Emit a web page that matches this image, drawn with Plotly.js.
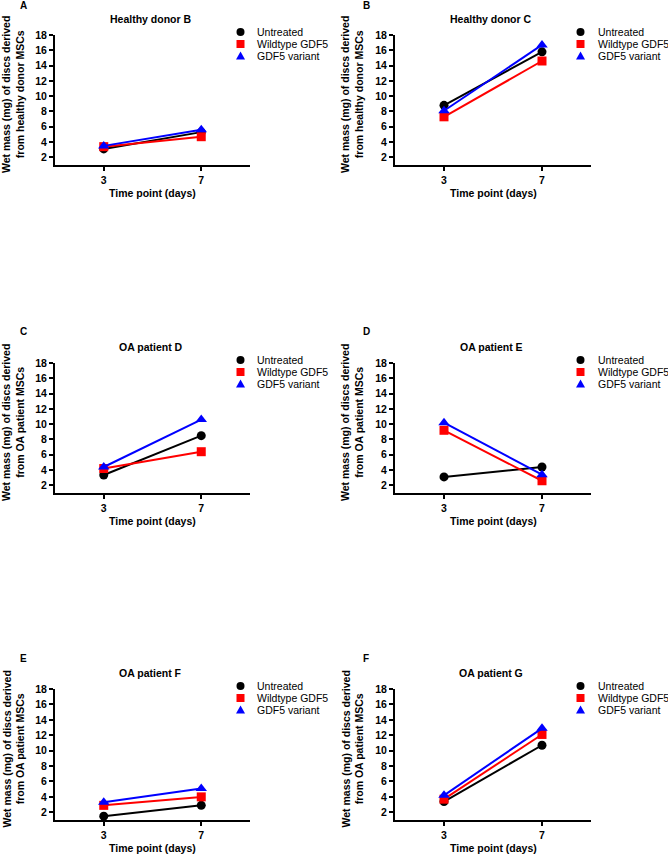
<!DOCTYPE html>
<html>
<head>
<meta charset="utf-8">
<script src="https://cdn.plot.ly/plotly-3.0.1.min.js"></script>
<style>html,body{margin:0;padding:0;background:#fff;}#chart{width:668px;height:854px;}</style>
</head>
<body>
<div id="chart"></div>
<script>
// ---- data ----
const timePoints = [3, 7];
const timeTickLabels = ['3', '7'];
const yTickValues = [2, 4, 6, 8, 10, 12, 14, 16, 18];
const groupNames = ['Untreated', 'Wildtype GDF5', 'GDF5 variant'];
const panelLetters = ['A', 'B', 'C', 'D', 'E', 'F'];
const panelTitles = ['Healthy donor B', 'Healthy donor C', 'OA patient D', 'OA patient E', 'OA patient F', 'OA patient G'];
const sourceLabels = ['healthy donor', 'healthy donor', 'OA patient', 'OA patient', 'OA patient', 'OA patient'];
const untreatedMass = [[3.1, 5.3], [8.8, 15.8], [3.35, 8.5], [3.1, 4.4], [1.5, 2.9], [3.4, 10.7]];
const wildtypeMass  = [[3.4, 4.7], [7.3, 14.6], [4.2, 6.4], [9.2, 2.6], [2.9, 4.0], [3.7, 12.1]];
const variantMass   = [[3.5, 5.6], [8.1, 16.7], [4.4, 10.6], [10.2, 3.4], [3.3, 5.1], [4.2, 12.9]];
const xAxisTitle = 'Time point (days)';

// ---- styling ----
const W = 668, H = 854;
const FONT = 'Liberation Sans, Arial, sans-serif';
const colors = ['#000000', '#ff0000', '#0000ff'];
const symbols = ['circle', 'square', 'triangle-up'];
const seriesData = [untreatedMass, wildtypeMass, variantMass];

const colX = [[55, 250], [395, 591]];
const rowY = [[35, 165], [363, 493], [689, 820]];
const px = x => x / W;
const py = y => 1 - y / H;

const traces = [];
const layout = {
  width: W, height: H,
  margin: {l: 0, r: 0, t: 0, b: 0},
  paper_bgcolor: '#fff', plot_bgcolor: '#fff',
  showlegend: false,
  font: {family: FONT, color: '#000'},
  annotations: [], shapes: []
};

for (let p = 0; p < 6; p++) {
  const col = p % 2, row = Math.floor(p / 2);
  const sfx = p === 0 ? '' : String(p + 1);
  const [x0, x1] = colX[col];
  const [yT, yB] = rowY[row];
  layout['xaxis' + sfx] = {
    domain: [px(x0), px(x1)], range: [1, 9], anchor: 'y' + sfx,
    showgrid: false, zeroline: false, showline: true, linewidth: 2, linecolor: '#000',
    ticks: 'outside', ticklen: 4, tickwidth: 2, tickcolor: '#000',
    tickvals: timePoints, ticktext: timeTickLabels,
    tickfont: {family: FONT, size: 10.5, weight: 'bold', color: '#000'}
  };
  layout['yaxis' + sfx] = {
    domain: [py(yB), py(yT)], range: [1, 18], anchor: 'x' + sfx,
    showgrid: false, zeroline: false, showline: true, linewidth: 2, linecolor: '#000',
    ticks: 'outside', ticklen: 4, tickwidth: 2, tickcolor: '#000',
    tickvals: yTickValues,
    tickfont: {family: FONT, size: 10.5, weight: 'bold', color: '#000'}
  };
  for (let s = 0; s < 3; s++) {
    traces.push({
      type: 'scatter', mode: 'lines+markers',
      x: timePoints, y: seriesData[s][p], name: groupNames[s],
      xaxis: 'x' + sfx, yaxis: 'y' + sfx,
      line: {color: colors[s], width: 2},
      marker: {color: colors[s], symbol: symbols[s], size: s === 2 ? 10 : 9},
      cliponaxis: false
    });
  }
  const cx = (x0 + x1) / 2;
  const letterX = col === 0 ? 23 : 366;
  const letterY = row === 0 ? 5 : (row === 1 ? 331 : 658);
  const titleY = yT - 16;
  // panel letter
  layout.annotations.push({xref: 'paper', yref: 'paper', x: px(letterX), y: py(letterY),
    xanchor: 'center', yanchor: 'middle', showarrow: false,
    text: '<b>' + panelLetters[p] + '</b>', font: {family: FONT, size: 10, color: '#000'}});
  // title
  layout.annotations.push({xref: 'paper', yref: 'paper', x: px(cx - 2), y: py(titleY),
    xanchor: 'center', yanchor: 'middle', showarrow: false,
    text: '<b>' + panelTitles[p] + '</b>', font: {family: FONT, size: 10.5, color: '#000'}});
  // x title
  layout.annotations.push({xref: 'paper', yref: 'paper', x: px(cx), y: py(yB + 28),
    xanchor: 'center', yanchor: 'middle', showarrow: false,
    text: '<b>' + xAxisTitle + '</b>', font: {family: FONT, size: 10.5, color: '#000'}});
  // y title
  const ytx = col === 0 ? 13 : 352;
  layout.annotations.push({xref: 'paper', yref: 'paper', x: px(ytx), y: py((yT + yB) / 2 - 5),
    xanchor: 'center', yanchor: 'middle', showarrow: false, textangle: -90,
    text: '<b>Wet mass (mg) of discs derived<br>from ' + sourceLabels[p] + ' MSCs</b>',
    font: {family: FONT, size: 10.5, color: '#000'}});
  // legend
  const mx = col === 0 ? 240.5 : 580.5;
  const tx = col === 0 ? 255 : 596;
  for (let s = 0; s < 3; s++) {
    const ly = yT - 3 + s * 12;
    const base = {xref: 'paper', yref: 'paper', xsizemode: 'pixel', ysizemode: 'pixel',
      xanchor: px(mx), yanchor: py(ly), line: {width: 0}, fillcolor: colors[s]};
    if (s === 0) layout.shapes.push(Object.assign({type: 'circle', x0: -4, x1: 4, y0: -4, y1: 4}, base));
    else if (s === 1) layout.shapes.push(Object.assign({type: 'rect', x0: -4, x1: 4, y0: -4, y1: 4}, base));
    else layout.shapes.push(Object.assign({type: 'path', path: 'M -4.5 -3.5 L 4.5 -3.5 L 0 4.5 Z'}, base));
    layout.annotations.push({xref: 'paper', yref: 'paper', x: px(tx), y: py(ly),
      xanchor: 'left', yanchor: 'middle', showarrow: false,
      text: groupNames[s], font: {family: FONT, size: 10.5, color: '#000'}});
  }
}

Plotly.newPlot('chart', traces, layout, {displayModeBar: false, staticPlot: true});
</script>
</body>
</html>
